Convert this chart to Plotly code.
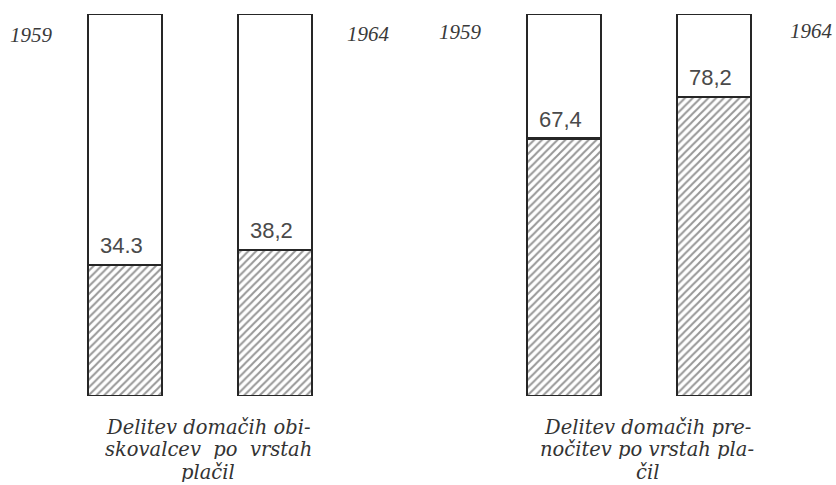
import plotly.graph_objects as go

# ---- data ----
years = ["1959", "1964"]
obiskovalci = [34.3, 38.2]          # Delitev domačih obiskovalcev po vrstah plačil
prenocitve = [67.4, 78.2]           # Delitev domačih prenočitev po vrstah plačil
obiskovalci_labels = ["34.3", "38,2"]
prenocitve_labels = ["67,4", "78,2"]
total = 100
caption_obisk = ["Delitev domačih obi-", "skovalcev  po  vrstah", "plačil"]
caption_prenoc = ["Delitev domačih pre-", "nočitev po vrstah pla-", "čil"]

W, H = 836, 485
T, B = 14, 485 - 396
PH = H - T - B
INK = "#262626"


def px(x):
    return x / W


def py(y):
    return (H - B - y) / PH


fig = go.Figure()

for axis, vals in (("", obiskovalci), ("2", prenocitve)):
    fig.add_trace(go.Bar(
        x=years, y=vals, xaxis="x" + axis, yaxis="y" + axis,
        width=0.49,
        marker=dict(color="white",
                    pattern=dict(shape="/", fgcolor="#2e2e2e", bgcolor="white",
                                 size=5.5, solidity=0.35),
                    line=dict(color=INK, width=2.4)),
        hoverinfo="skip", showlegend=False,
    ))
    fig.add_trace(go.Bar(
        x=years, y=[total - v for v in vals], xaxis="x" + axis, yaxis="y" + axis,
        width=0.49,
        marker=dict(color="white", line=dict(color=INK, width=2.4)),
        hoverinfo="skip", showlegend=False,
    ))

annotations = []
label_font = dict(family="Liberation Sans, Arial, sans-serif", size=22, color="#4a4a4a")
for axis, vals, labels in (("", obiskovalci, obiskovalci_labels),
                           ("2", prenocitve, prenocitve_labels)):
    for i, (v, lab) in enumerate(zip(vals, labels)):
        annotations.append(dict(
            x=i, y=v, xref="x" + axis, yref="y" + axis, text=lab,
            showarrow=False, yanchor="bottom", xanchor="center",
            yshift=5, xshift=-4, font=label_font,
        ))

year_font = dict(family="Liberation Serif, DejaVu Serif, serif", size=21, color="#3a3a3a")
for (xc, yc), yr in zip([(31, 35), (368, 34), (460, 32), (811, 31)], years * 2):
    annotations.append(dict(
        x=px(xc), y=py(yc), xref="paper", yref="paper", text="<i>" + yr + "</i>",
        showarrow=False, xanchor="center", yanchor="middle", font=year_font,
    ))

cap_font = dict(family="DejaVu Serif, Liberation Serif, serif", size=19.5, color="#333333")
for xc, lines, ys in ((208, caption_obisk, (427, 449, 472)),
                      (647, caption_prenoc, (427, 449, 472))):
    for line, yc in zip(lines, ys):
        annotations.append(dict(
            x=px(xc), y=py(yc), xref="paper", yref="paper", text="<i>" + line + "</i>",
            showarrow=False, xanchor="center", yanchor="middle", font=cap_font,
            height=20, valign="middle",
        ))

hidden = dict(showgrid=False, zeroline=False, showticklabels=False,
              showline=False, ticks="", fixedrange=True)

fig.update_layout(
    width=W, height=H,
    margin=dict(l=0, r=0, t=T, b=B),
    paper_bgcolor="white", plot_bgcolor="white",
    barmode="stack",
    xaxis=dict(domain=[px(50), px(350)], type="category", range=[-0.5, 1.5], **hidden),
    xaxis2=dict(domain=[px(489), px(789)], type="category", range=[-0.5, 1.5],
                anchor="y2", **hidden),
    yaxis=dict(range=[0, total], **hidden),
    yaxis2=dict(range=[0, total], anchor="x2", **hidden),
    annotations=annotations,
    showlegend=False,
)

fig.write_html(
    "out.html",
    config={"displayModeBar": False},
    post_script="document.body.style.margin='0';document.body.style.overflow='hidden';",
)
